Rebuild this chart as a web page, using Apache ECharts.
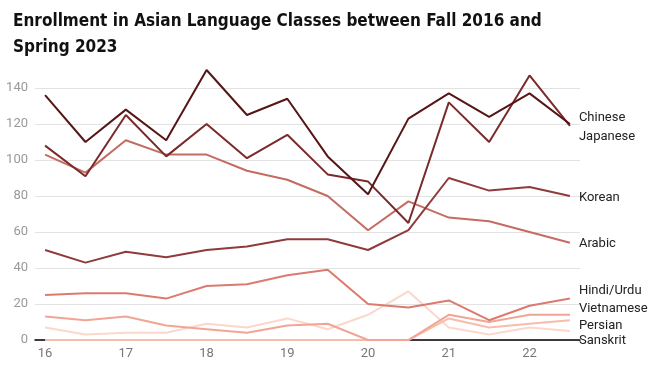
<!DOCTYPE html>
<html>
<head>
<meta charset="utf-8">
<script src="https://cdn.jsdelivr.net/npm/echarts@6/dist/echarts.min.js"></script>
<style>html,body{margin:0;padding:0;background:#fff;}#c{width:654px;height:374px;}</style>
</head>
<body>
<div id="c"></div>
<script>
const categories = ['Fall 2016','Spring 2017','Fall 2017','Spring 2018','Fall 2018','Spring 2019','Fall 2019','Spring 2020','Fall 2020','Spring 2021','Fall 2021','Spring 2022','Fall 2022','Spring 2023'];
const chinese    = [136,110,128,111,150,125,134,102,81,123,137,124,137,120];
const japanese   = [108,91,125,102,120,101,114,92,88,65,132,110,147,119];
const korean     = [50,43,49,46,50,52,56,56,50,61,90,83,85,80];
const arabic     = [103,93,111,103,103,94,89,80,61,77,68,66,60,54];
const hindiUrdu  = [25,26,26,23,30,31,36,39,20,18,22,11,19,23];
const vietnamese = [13,11,13,8,6,4,8,9,0,0,14,10,14,14];
const persian    = [0,0,0,0,0,0,0,0,0,0,12,7,9,11];
const sanskrit   = [7,3,4,4,9,7,12,6,14,27,7,3,7,5];
const yTicks = [0,20,40,60,80,100,120,140];

const seriesDefs = [
  {name:'Sanskrit',   data:sanskrit,   color:'#fbd8cb', dy:10, guide:false},
  {name:'Persian',    data:persian,    color:'#f6bcac', dy:6,  guide:false},
  {name:'Vietnamese', data:vietnamese, color:'#f2a595', dy:-6, guide:true},
  {name:'Hindi/Urdu', data:hindiUrdu,  color:'#dc7a6f', dy:-8, guide:true},
  {name:'Arabic',     data:arabic,     color:'#c46b62', dy:1,  guide:false},
  {name:'Korean',     data:korean,     color:'#8f3b3b', dy:2,  guide:false},
  {name:'Japanese',   data:japanese,   color:'#7a2a2a', dy:11, guide:true},
  {name:'Chinese',    data:chinese,    color:'#561516', dy:-6, guide:true}
];

const fallIdx = categories.map((c,i)=>c.startsWith('Fall')?i:-1).filter(i=>i>=0);

const chart = echarts.init(document.getElementById('c'), null, {renderer:'canvas'});
chart.setOption({
  animation:false,
  backgroundColor:'#fff',
  title:{
    text:'Enrollment in Asian Language Classes between Fall 2016 and\nSpring 2023',
    left:8, top:4,
    textStyle:{fontFamily:"'DejaVu Sans Condensed', Roboto, sans-serif", fontWeight:'bold', fontSize:17, lineHeight:26, color:'#111'}
  },
  grid:{left:35, right:74, top:52, bottom:34},
  xAxis:{
    type:'value', min:-0.25, max:categories.length-0.75,
    axisLine:{show:true, onZero:false, lineStyle:{color:'#000', width:1.5}},
    axisTick:{show:false},
    splitLine:{show:false},
    axisLabel:{customValues:fallIdx, formatter:v=>categories[Math.round(v)].slice(-2), color:'#777', fontSize:13, margin:7, fontFamily:'Roboto'}
  },
  yAxis:{
    type:'value', min:0, max:160, interval:20,
    axisLine:{show:false}, axisTick:{show:false},
    axisLabel:{color:'#999', fontSize:13, margin:7, fontFamily:'Roboto', showMaxLabel:false},
    splitLine:{lineStyle:{color:['#e2e2e2','#e2e2e2','#e2e2e2','#e2e2e2','#e2e2e2','#e2e2e2','#e2e2e2','#e2e2e2','rgba(0,0,0,0)'], width:1}}
  },
  series: seriesDefs.map(s=>({
    name:s.name, type:'line',
    data:s.data.map((v,i)=>[i,v]),
    symbol:'none',
    lineStyle:{color:s.color, width:2},
    itemStyle:{color:s.color},
    endLabel:{show:true, formatter:s.name, color:'#222', fontSize:13, fontFamily:'Roboto', distance:9},
    labelLayout:{dy:s.dy},
    labelLine:{show:s.guide, length2:0, smooth:false, lineStyle:{color:s.color, width:1, type:'dotted'}}
  }))
});
</script>
</body>
</html>
